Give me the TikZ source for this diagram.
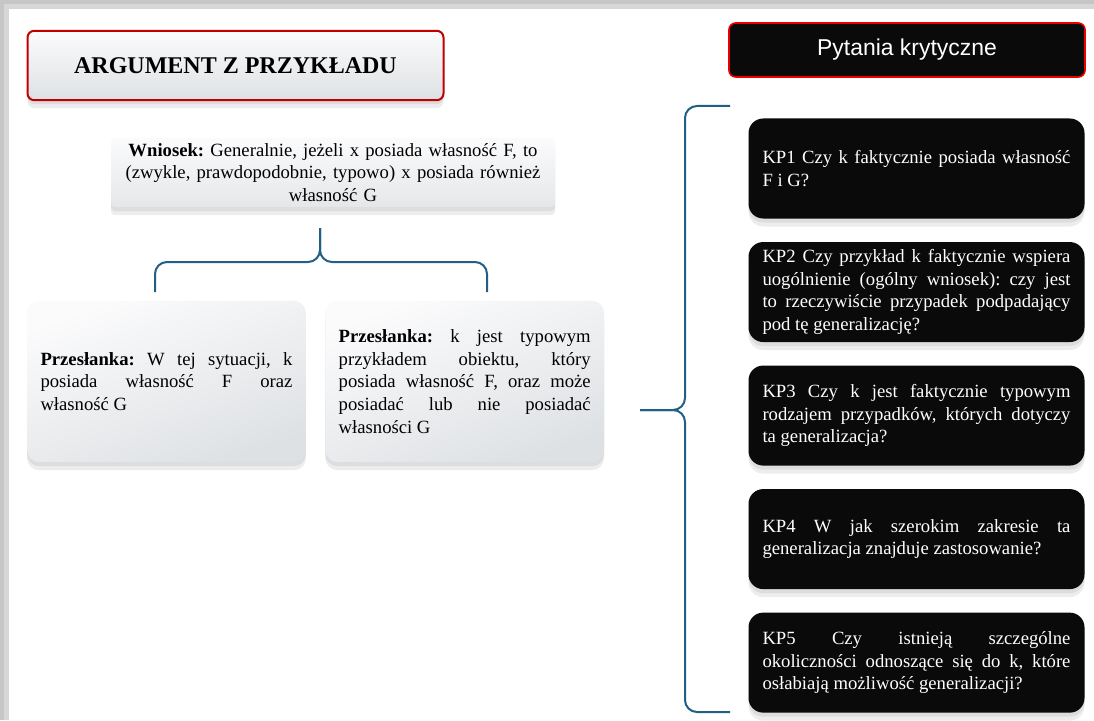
\documentclass[tikz,border=0pt]{standalone}
\usepackage{fontspec}
\setmainfont{Liberation Serif}
\newfontfamily\headsans{Liberation Sans}
\usetikzlibrary{positioning,shadows}
\definecolor{accentred}{RGB}{192,0,0}
\definecolor{brightred}{RGB}{235,0,0}
\definecolor{bracecol}{RGB}{31,96,132}
\definecolor{paneltop}{RGB}{251,251,252}
\definecolor{panelbot}{RGB}{222,225,228}
\definecolor{darkbox}{RGB}{10,10,10}
\definecolor{framegray}{RGB}{198,198,198}
\frenchspacing

\begin{document}
\begin{tikzpicture}[x=0.75pt,y=-0.75pt,
    node distance=17.25pt,
    softshadow/.style={general shadow={shadow xshift=0pt,shadow yshift=-6pt,fill=black,opacity=0.07},
                drop shadow={shadow xshift=0pt,shadow yshift=-3pt,opacity=0.14}},
    bodyfont/.style={font=\fontsize{14}{17}\selectfont},
    titlebox/.style={draw=accentred,line width=1.5pt,rounded corners=5pt,
                top color=paneltop,bottom color=panelbot,softshadow,
                minimum width=312pt,minimum height=52pt,
                font=\fontsize{18}{22}\selectfont\bfseries},
    headbox/.style={draw=brightred,line width=1.2pt,rounded corners=5pt,fill=darkbox,
                text=white,minimum width=267pt,minimum height=40.5pt,
                font=\headsans\fontsize{17.2}{20}\selectfont},
    concbox/.style={rounded corners=3pt,top color=paneltop,bottom color=panelbot!80,
                softshadow,minimum width=333pt,minimum height=52pt,inner sep=1pt,
                text width=318pt,align=center,bodyfont},
    prembox/.style={rounded corners=9pt,top color=paneltop,bottom color=panelbot,
                shading angle=20,softshadow,minimum width=209pt,minimum height=121pt,
                inner xsep=10pt,text width=189pt,align=justify,bodyfont},
    qbox/.style={rounded corners=11pt,fill=darkbox,text=white,softshadow,
                minimum width=252pt,minimum height=75pt,inner xsep=10.5pt,
                text width=231pt,align=justify,bodyfont},
    brace/.style={draw=bracecol,line width=1.5pt,rounded corners=9pt}
]
\useasboundingbox (0,0) rectangle (1094,720);
\fill[framegray] (0,0) rectangle (1094,720);
\fill[framegray!70] (4,4) rectangle (1094,720);
\fill[white] (9,9) rectangle (1094,720);

% lewa strona: argument
\node[titlebox] (title) at (235.5,65.5) {ARGUMENT Z PRZYKŁADU};
\node[concbox] (concl) at (333,172.5)
    {\textbf{Wniosek:} Generalnie, jeżeli x posiada własność F, to\\
     (zwykle, prawdopodobnie, typowo) x posiada również\\ własność G};
\node[prembox] (premA) at (166.5,381.5)
    {\textbf{Przesłanka:} W tej sytuacji, k\linebreak posiada własność F oraz\linebreak własność G};
\node[prembox, right=14.25pt of premA] (premB)
    {\textbf{Przesłanka:} k jest typowym\linebreak przykładem obiektu, który\linebreak
     posiada własność F, oraz może\linebreak posiadać lub nie posiadać\linebreak własności G};

% prawa strona: pytania krytyczne
\node[headbox] (crit) at (907,50) {Pytania krytyczne};
\node[qbox] (kp1) at (916.5,168.5)
    {KP1 Czy k faktycznie posiada własność\linebreak F i G?};
\node[qbox, below=of kp1] (kp2)
    {KP2 Czy przykład k faktycznie wspiera\linebreak uogólnienie (ogólny wniosek): czy jest\linebreak
     to rzeczywiście przypadek podpadający\linebreak pod tę generalizację?};
\node[qbox, below=of kp2] (kp3)
    {KP3 Czy k jest faktycznie typowym\linebreak rodzajem przypadków, których dotyczy\linebreak
     ta generalizacja?};
\node[qbox, below=of kp3] (kp4)
    {KP4 W jak szerokim zakresie ta\linebreak generalizacja znajduje zastosowanie?};
\node[qbox, below=of kp4] (kp5)
    {KP5 Czy istnieją szczególne\linebreak okoliczności odnoszące się do k, które\linebreak
     osłabiają możliwość generalizacji?};

% nawiasy
\coordinate (cstub) at (320,228);
\coordinate (cmid) at (320,262);
\coordinate (endA) at (155,292);
\coordinate (endB) at (487,292);
\draw[brace] (cstub) -- (cmid) -| (endA);
\draw[brace] (cstub) -- (cmid) -| (endB);

\coordinate (tip) at (640,410);
\coordinate (spine) at (685,410);
\coordinate (topend) at (730,106);
\coordinate (botend) at (730,712);
\draw[brace] (tip) -- (spine) |- (topend);
\draw[brace] (tip) -- (spine) |- (botend);
\end{tikzpicture}
\end{document}
